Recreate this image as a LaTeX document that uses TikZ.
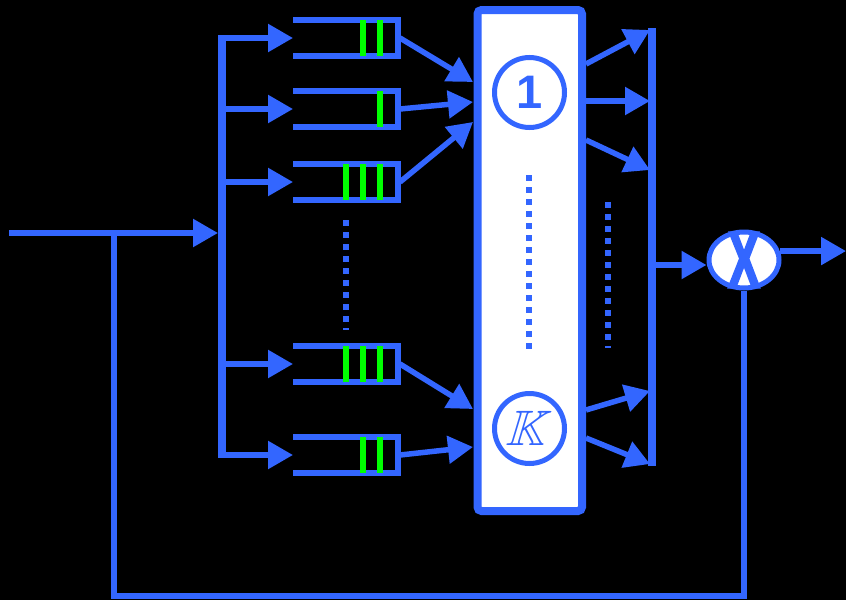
\documentclass[tikz,border=0pt]{standalone}
\usepackage{fontspec}
\newfontfamily\labelfont{Liberation Sans Bold}
\newfontfamily\xfont[FakeBold=3]{Liberation Sans Bold}
\usepackage{amssymb}
\usetikzlibrary{arrows.meta}
\usetikzlibrary{shapes.geometric}
\usetikzlibrary{calc}
\definecolor{qblue}{RGB}{51,102,255}
\definecolor{qgreen}{RGB}{0,255,0}

\begin{document}
\begin{tikzpicture}[x=1pt, y=-1pt,
    wire/.style={qblue, line width=5.5pt},
    bus/.style={qblue, line width=8pt},
    arr/.style={wire, -{Triangle[length=25pt,width=27pt]}},
    dots/.style={qblue, line width=6pt, dash pattern=on 6pt off 6pt},
    job/.style={qgreen, line width=6pt},
    server/.style={circle, draw=qblue, line width=5pt, fill=white, minimum size=70pt, inner sep=0pt, text=qblue}]
      \path[use as bounding box, fill=black] (0,0) rectangle (846,600);
      % queues fed from the splitting bus
      \draw[bus] (222,35) -- (222,458);
      \foreach \y/\bars [count=\i] in {38/{363,380}, 109/{380}, 182/{346,363,380}, 364/{346,363,380}, 455/{363,380}} {
        \coordinate (b\i) at (222,\y);
        \coordinate (t\i) at (293,\y);
        \coordinate (q\i) at (400,\y);
        \draw[wire] (293,\y-18) -- (398,\y-18) -- (398,\y+18) -- (293,\y+18);
        \foreach \b in \bars
          \draw[job] (\b,\y-18) -- (\b,\y+18);
        \draw[arr] (b\i) -- (t\i);
      }
      \draw[dots] (346,220) -- (346,330);
      % servers
      \node[draw=qblue, line width=8pt, fill=white, rounded corners=4pt, minimum width=104.5pt, minimum height=501pt, inner sep=0pt] (srv) at (529.75,260.5) {};
      \node[server, font=\labelfont\fontsize{47}{47}\selectfont] (s1) at (529.5,92.5) {1};
      \node[server] (sk) at (529.5,428.5) {};
      \node[text=qblue, scale=2, xslant=0.3, font=\fontsize{24.88}{25}\selectfont] (kl) at (sk) {$\mathbb{K}$};
      \draw[dots] (529,175) -- (529,353);
      \coordinate (i1) at (473,82);
      \coordinate (i2) at (473,102);
      \coordinate (i3) at (473,122);
      \coordinate (i4) at (473,409);
      \coordinate (i5) at (473,447);
      \foreach \i in {1,...,5}
        \draw[arr] (q\i) -- (i\i);
      % outputs to the merging bus
      \draw[bus] (652,28) -- (652,466);
      \foreach \ya/\yb [count=\j] in {64/30, 101/101, 140/170, 410/391, 438/464} {
        \coordinate (o\j) at (586,\ya);
        \coordinate (m\j) at (650,\yb);
        \draw[arr] (o\j) -- (m\j);
      }
      \draw[dots] (608,202) -- (608,348);
      % multiplier and feedback
      \node[ellipse, draw=qblue, line width=5pt, fill=white, minimum width=70pt, minimum height=56pt, inner sep=0pt] (mul) at (744,260) {};
      \node[text=qblue, xscale=0.6, inner sep=0pt, font=\xfont\fontsize{80}{80}\selectfont] (x) at (744,260) {X};
      \coordinate (mb) at (652,265);
      \coordinate (out) at (846,252);
      \draw[arr] (mb) -- (mb -| mul.west);
      \draw[arr] (mul.14) -- (mul.14 -| out);
      \coordinate (src) at (9,233);
      \coordinate (fb) at (114,233);
      \coordinate (fbc) at (114,596);
      \draw[arr] (src) -- (218,233);
      \draw[wire] (mul.south) |- (fbc) -- (fb);
\end{tikzpicture}
\end{document}
